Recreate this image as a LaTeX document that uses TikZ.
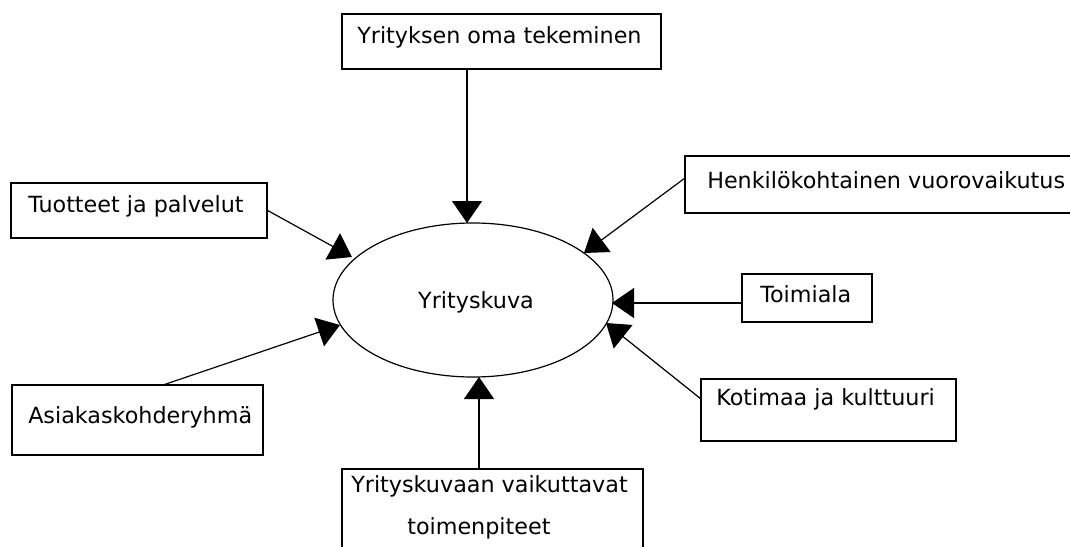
\documentclass[tikz,border=0pt]{standalone}
\usepackage{fontspec}
\setmainfont{DejaVu Sans}
\usetikzlibrary{arrows.meta,shapes.geometric,fit}
\begin{document}
\begin{tikzpicture}[x=0.75pt,y=-0.75pt,
  box/.style={draw=black,line width=1pt,inner sep=0pt,rectangle},
  lbl/.style={inner sep=0pt,font=\fontsize{16.7}{20}\selectfont,text=black},
  arr/.style={draw=black,line width=0.9pt,-{Triangle[length=16.5pt,width=22.5pt]}},
  ell/.style={draw=black,line width=0.9pt,ellipse,inner sep=0pt,minimum width=210pt,minimum height=115.5pt}]
\useasboundingbox (0,0) rectangle (1070,546);
\clip (0,0) rectangle (1070,546);
\fill[white] (0,0) rectangle (1070,546);

% central ellipse
\node[ell] (Y) at (473,300) {};
\node[lbl,anchor=base] (Yt) at (476,308) {Yrityskuva};

% boxes
\node[box,fit={(342,14)(661,69)}] (tp) {};
\node[lbl,anchor=base west] (tpT) at (357,43) {Yrityksen oma tekeminen};

\node[box,fit={(11,183)(267,238)}] (tuo) {};
\node[lbl,anchor=base west] (tuoT) at (28,212) {Tuotteet ja palvelut};

\node[box,fit={(685,156)(1085,213)}] (hen) {};
\node[lbl,anchor=base west] (henT) at (707,188) {Henkilökohtainen vuorovaikutus};

\node[box,fit={(742,274)(872,322)}] (toi) {};
\node[lbl,anchor=base west] (toiT) at (760,302) {Toimiala};

\node[box,fit={(701,379)(956,441)}] (kot) {};
\node[lbl,anchor=base west] (kotT) at (716,405) {Kotimaa ja kulttuuri};

\node[box,fit={(12,385)(263,455)}] (asi) {};
\node[lbl,anchor=base west] (asiT) at (28,423) {Asiakaskohderyhmä};

\node[box,fit={(342,469)(643,570)}] (bot) {};
\node[lbl,anchor=base west] (botT1) at (351,492) {Yrityskuvaan vaikuttavat};
\node[lbl,anchor=base west] (botT2) at (407,534) {toimenpiteet};

% connector end points
\coordinate (tipA) at (467,223);
\coordinate (tipB) at (352,257);
\coordinate (tipC) at (584,253);
\coordinate (tipD) at (612,303);
\coordinate (tipE) at (606,323);
\coordinate (tipF) at (340,325);
\coordinate (tipG) at (479,377);
\coordinate (henS) at (685,178);
\coordinate (kotS) at (701,399);
\coordinate (asiS) at (163,385);

% connectors
\draw[arr] (tp.south -| tipA) -- (tipA);
\draw[arr] (tuo.east) -- (tipB);
\draw[arr] (henS) -- (tipC);
\draw[arr] (toi.west |- tipD) -- (tipD);
\draw[arr] (kotS) -- (tipE);
\draw[arr] (asiS) -- (tipF);
\draw[arr] (bot.north -| tipG) -- (tipG);
\end{tikzpicture}
\end{document}
